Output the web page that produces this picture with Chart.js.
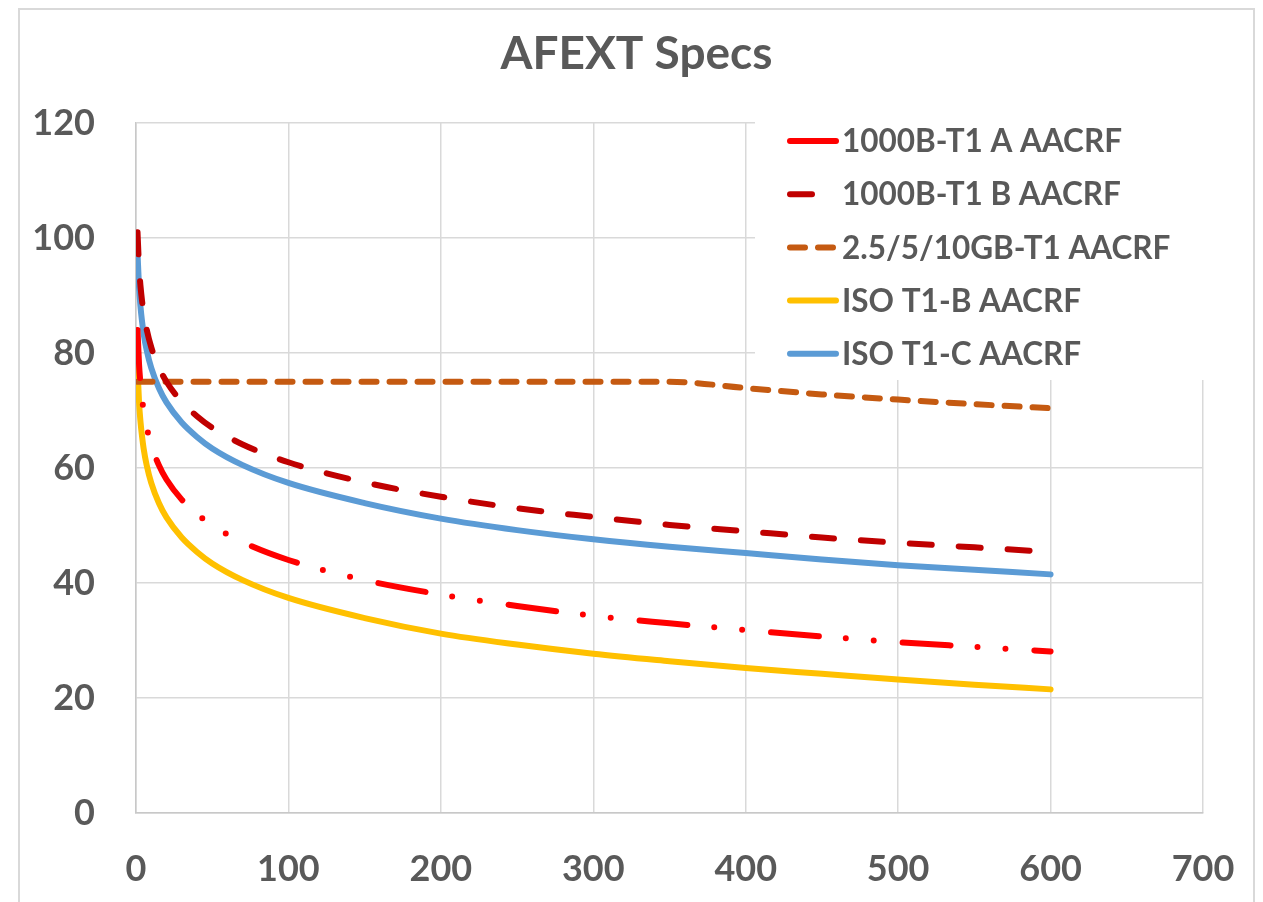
<!DOCTYPE html>
<html lang="en">
<head>
  <meta charset="UTF-8">
  <title>AFEXT Specs</title>
  <script src="https://cdn.jsdelivr.net/npm/chart.js@4.4.1/dist/chart.umd.min.js"></script>
  <style>
    html, body { margin: 0; padding: 0; background: #fff; overflow: hidden; }
    #wrap { position: relative; width: 1263px; height: 902px; }
    #frame {
      position: absolute; left: 18px; top: 8px; width: 1237px; height: 1000px;
      border: 2px solid #d9d9d9; box-sizing: border-box; pointer-events: none;
    }
  </style>
</head>
<body>
  <div id="wrap">
    <canvas id="chart" width="1263" height="902"></canvas>
    <div id="frame"></div>
  </div>

  <script>
    // x positions (MHz) shared by all series
    const freqs = [1, 2, 3, 4, 5, 7, 10, 15, 20, 30, 40, 50, 70, 100, 150, 200, 250, 300, 350, 400, 450, 500, 550, 600];

    // dB values
    const a1000 = [84, 78, 74.5, 72, 70, 67.1, 64, 60.5, 58, 54.5, 52, 50, 47.1, 44, 40.5, 38, 36, 34.3, 33, 31.8, 30.7, 29.7, 28.9, 28.1];
    const b1000 = [101, 95, 91.5, 89, 87, 84.1, 81, 77.5, 75, 71.5, 69, 67, 64.1, 61, 57.5, 55, 53, 51.5, 50.1, 49, 47.9, 47, 46.2, 45.4];
    const gb10 = [75, 75, 75, 75, 75, 75, 75, 75, 75, 75, 75, 75, 75, 75, 75, 75, 75, 75, 75, 73.9, 72.8, 71.9, 71.1, 70.4];
    const isoB = [77.4, 71.4, 67.9, 65.4, 63.4, 60.5, 57.4, 53.9, 51.4, 47.9, 45.4, 43.4, 40.5, 37.4, 33.9, 31.2, 29.3, 27.7, 26.4, 25.2, 24.2, 23.2, 22.3, 21.5];
    const isoC = [97.4, 91.4, 87.9, 85.4, 83.4, 80.5, 77.4, 73.9, 71.4, 67.9, 65.4, 63.4, 60.5, 57.4, 53.9, 51.2, 49.2, 47.6, 46.3, 45.2, 44.1, 43.1, 42.3, 41.5];

    const seriesNames = ['1000B-T1 A AACRF', '1000B-T1 B AACRF', '2.5/5/10GB-T1 AACRF', 'ISO T1-B AACRF', 'ISO T1-C AACRF'];
    const xTicks = [0, 100, 200, 300, 400, 500, 600, 700];
    const yTicks = [0, 20, 40, 60, 80, 100, 120];

    const grey = '#595959';
    const pts = (ys) => freqs.map((f, i) => ({ x: f, y: ys[i] }));

    function line(label, ys, color, width, dash) {
      return {
        label: label,
        data: pts(ys),
        borderColor: color,
        backgroundColor: color,
        borderWidth: width,
        borderDash: dash,
        borderCapStyle: 'round',
        pointRadius: 0,
        cubicInterpolationMode: 'monotone',
        fill: false
      };
    }

    // legend box drawn over the plot, covering the grid like the original
    const boxLegend = {
      id: 'boxLegend',
      beforeDatasetsDraw(chart) {
        const ctx = chart.ctx;
        ctx.save();
        ctx.fillStyle = '#ffffff';
        ctx.fillRect(755, 108, 462, 272);
        chart.data.datasets.forEach((ds, i) => {
          const y = 141 + i * 53.2;
          ctx.beginPath();
          ctx.strokeStyle = ds.borderColor;
          ctx.lineWidth = ds.borderWidth;
          ctx.lineCap = 'round';
          ctx.setLineDash(ds.borderDash || []);
          ctx.moveTo(790, y);
          ctx.lineTo(836, y);
          ctx.stroke();
          ctx.setLineDash([]);
          ctx.fillStyle = grey;
          ctx.font = 'bold 31.5px Lato';
          ctx.textBaseline = 'middle';
          ctx.fillText(ds.label, 842, y + 1);
        });
        ctx.restore();
      }
    };

    new Chart(document.getElementById('chart'), {
      type: 'line',
      data: {
        datasets: [
          line(seriesNames[0], a1000, '#ff0000', 6, [48, 27, 0, 28, 0, 29]),
          line(seriesNames[1], b1000, '#c00000', 6, [22, 27]),
          line(seriesNames[2], gb10, '#c55a11', 6, [15, 13]),
          line(seriesNames[3], isoB, '#ffc000', 6, []),
          line(seriesNames[4], isoC, '#5b9bd5', 6, [])
        ]
      },
      options: {
        responsive: false,
        animation: false,
        layout: { padding: { left: 10, right: 0, top: 0, bottom: 0 } },
        plugins: {
          legend: { display: false },
          tooltip: { enabled: false },
          title: {
            display: true,
            text: 'AFEXT Specs',
            color: grey,
            font: { family: 'Lato', size: 46, weight: 'bold', lineHeight: 1.2 },
            padding: { top: 27, bottom: 40.8 }
          }
        },
        scales: {
          x: {
            type: 'linear',
            min: 0,
            max: 700,
            afterFit: (s) => { s.height = 89; s.paddingRight = 60; },
            afterBuildTicks: (s) => { s.ticks = xTicks.map(v => ({ value: v })); },
            grid: { color: '#d9d9d9', lineWidth: 1.5, drawTicks: false },
            border: { color: '#c8c8c8', width: 1.5 },
            ticks: { color: grey, padding: 35, font: { family: 'Lato', size: 36, weight: 'bold' } }
          },
          y: {
            min: 0,
            max: 120,
            afterFit: (s) => { s.width = 126; },
            afterBuildTicks: (s) => { s.ticks = yTicks.map(v => ({ value: v })); },
            grid: { color: '#d9d9d9', lineWidth: 1.5, drawTicks: false },
            border: { color: '#c8c8c8', width: 1.5 },
            ticks: { color: grey, padding: 41, font: { family: 'Lato', size: 36, weight: 'bold' } }
          }
        }
      },
      plugins: [boxLegend]
    });
  </script>
</body>
</html>
